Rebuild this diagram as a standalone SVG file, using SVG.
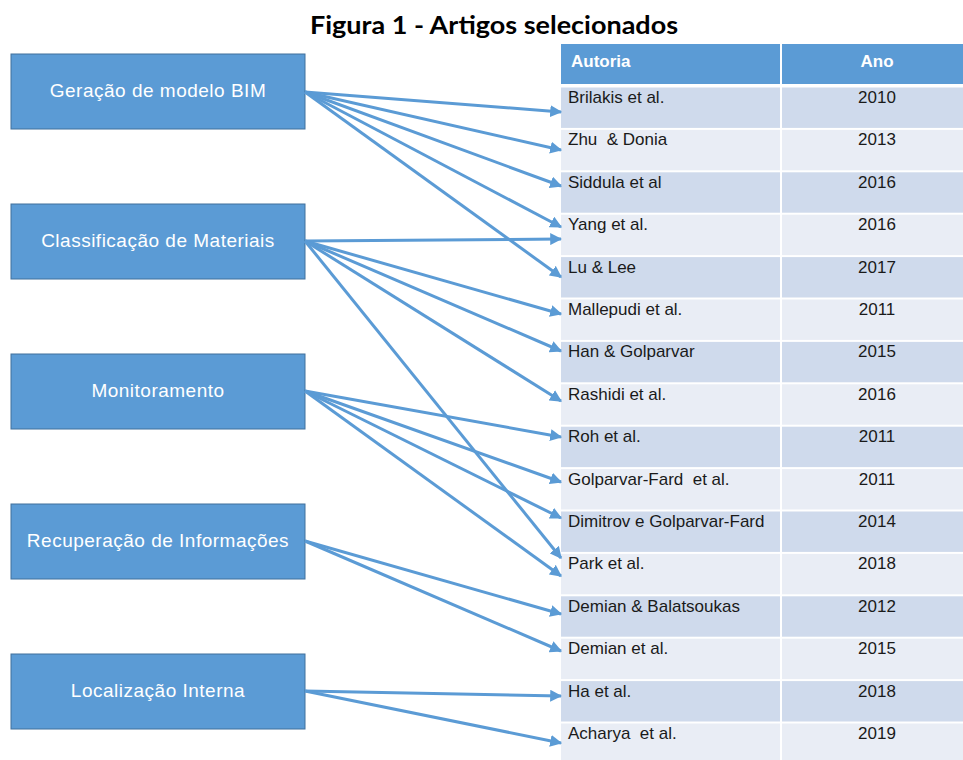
<svg xmlns="http://www.w3.org/2000/svg" width="963" height="760" viewBox="0 0 963 760">
<defs>
<style>
.box{fill:#5B9BD5;stroke:#41719C;stroke-width:1}
.bt{font-family:"Liberation Sans",Arial,sans-serif;font-size:19px;letter-spacing:0.5px;fill:#ffffff;text-anchor:middle}
.hd{font-family:"Liberation Sans",Arial,sans-serif;font-size:17px;font-weight:bold;fill:#ffffff}
.ct{font-family:"Liberation Sans",Arial,sans-serif;font-size:17px;fill:#1a1a1a;white-space:pre}
.yr{text-anchor:middle}
.dk{fill:#CFDAEC}
.lt{fill:#E9EDF5}
.cn line{stroke:#5B9BD5;stroke-width:3;marker-end:url(#ah)}
</style>
<marker id="ah" viewBox="0 0 10 10" refX="9" refY="5" markerWidth="4" markerHeight="4" orient="auto" markerUnits="strokeWidth">
<path d="M0,0 L10,5 L0,10 z" fill="#5B9BD5"/>
</marker>
</defs>
<rect width="963" height="760" fill="#ffffff"/>
<text x="494" y="34" font-family="Lato,'Open Sans','Liberation Sans',sans-serif" font-size="24" font-weight="bold" text-anchor="middle" fill="#000" textLength="368" lengthAdjust="spacingAndGlyphs">Figura 1 - Artigos selecionados</text>

<g id="table">
<rect x="561" y="44" width="219" height="40" fill="#5B9BD5"/>
<rect x="782" y="44" width="181" height="40" fill="#5B9BD5"/>
<text class="hd" x="571" y="67">Autoria</text>
<text class="hd yr" x="877" y="67">Ano</text>
<g id="rows">
<rect class="dk" x="561" y="87.5" width="219" height="40.4"/><rect class="dk" x="782" y="87.5" width="181" height="40.4"/>
<rect class="lt" x="561" y="129.9" width="219" height="40.4"/><rect class="lt" x="782" y="129.9" width="181" height="40.4"/>
<rect class="dk" x="561" y="172.3" width="219" height="40.4"/><rect class="dk" x="782" y="172.3" width="181" height="40.4"/>
<rect class="lt" x="561" y="214.7" width="219" height="40.4"/><rect class="lt" x="782" y="214.7" width="181" height="40.4"/>
<rect class="dk" x="561" y="257.1" width="219" height="40.4"/><rect class="dk" x="782" y="257.1" width="181" height="40.4"/>
<rect class="lt" x="561" y="299.5" width="219" height="40.4"/><rect class="lt" x="782" y="299.5" width="181" height="40.4"/>
<rect class="dk" x="561" y="341.9" width="219" height="40.4"/><rect class="dk" x="782" y="341.9" width="181" height="40.4"/>
<rect class="lt" x="561" y="384.3" width="219" height="40.4"/><rect class="lt" x="782" y="384.3" width="181" height="40.4"/>
<rect class="dk" x="561" y="426.7" width="219" height="40.4"/><rect class="dk" x="782" y="426.7" width="181" height="40.4"/>
<rect class="lt" x="561" y="469.1" width="219" height="40.4"/><rect class="lt" x="782" y="469.1" width="181" height="40.4"/>
<rect class="dk" x="561" y="511.5" width="219" height="40.4"/><rect class="dk" x="782" y="511.5" width="181" height="40.4"/>
<rect class="lt" x="561" y="553.9" width="219" height="40.4"/><rect class="lt" x="782" y="553.9" width="181" height="40.4"/>
<rect class="dk" x="561" y="596.3" width="219" height="40.4"/><rect class="dk" x="782" y="596.3" width="181" height="40.4"/>
<rect class="lt" x="561" y="638.7" width="219" height="40.4"/><rect class="lt" x="782" y="638.7" width="181" height="40.4"/>
<rect class="dk" x="561" y="681.1" width="219" height="40.4"/><rect class="dk" x="782" y="681.1" width="181" height="40.4"/>
<rect class="lt" x="561" y="723.5" width="219" height="40.4"/><rect class="lt" x="782" y="723.5" width="181" height="40.4"/>
</g>
<g id="cells">
<text class="ct" x="568" y="103">Brilakis et al.</text><text class="ct yr" x="877" y="103">2010</text>
<text class="ct" x="568" y="145.4">Zhu  &amp; Donia</text><text class="ct yr" x="877" y="145.4">2013</text>
<text class="ct" x="568" y="187.8">Siddula et al</text><text class="ct yr" x="877" y="187.8">2016</text>
<text class="ct" x="568" y="230.2">Yang et al.</text><text class="ct yr" x="877" y="230.2">2016</text>
<text class="ct" x="568" y="272.6">Lu &amp; Lee</text><text class="ct yr" x="877" y="272.6">2017</text>
<text class="ct" x="568" y="315">Mallepudi et al.</text><text class="ct yr" x="877" y="315">2011</text>
<text class="ct" x="568" y="357.4">Han &amp; Golparvar</text><text class="ct yr" x="877" y="357.4">2015</text>
<text class="ct" x="568" y="399.8">Rashidi et al.</text><text class="ct yr" x="877" y="399.8">2016</text>
<text class="ct" x="568" y="442.2">Roh et al.</text><text class="ct yr" x="877" y="442.2">2011</text>
<text class="ct" x="568" y="484.6">Golparvar-Fard  et al.</text><text class="ct yr" x="877" y="484.6">2011</text>
<text class="ct" x="568" y="527">Dimitrov e Golparvar-Fard</text><text class="ct yr" x="877" y="527">2014</text>
<text class="ct" x="568" y="569.4">Park et al.</text><text class="ct yr" x="877" y="569.4">2018</text>
<text class="ct" x="568" y="611.8">Demian &amp; Balatsoukas</text><text class="ct yr" x="877" y="611.8">2012</text>
<text class="ct" x="568" y="654.2">Demian et al.</text><text class="ct yr" x="877" y="654.2">2015</text>
<text class="ct" x="568" y="696.6">Ha et al.</text><text class="ct yr" x="877" y="696.6">2018</text>
<text class="ct" x="568" y="739">Acharya  et al.</text><text class="ct yr" x="877" y="739">2019</text>
</g>
</g>

<g id="n1"><rect class="box" x="11" y="54" width="294" height="75"/><text class="bt" x="158" y="97">Geração de modelo BIM</text></g>
<g id="n2"><rect class="box" x="11" y="204" width="294" height="75"/><text class="bt" x="158" y="247">Classificação de Materiais</text></g>
<g id="n3"><rect class="box" x="11" y="354" width="294" height="75"/><text class="bt" x="158" y="397">Monitoramento</text></g>
<g id="n4"><rect class="box" x="11" y="504" width="294" height="75"/><text class="bt" x="158" y="547">Recuperação de Informações</text></g>
<g id="n5"><rect class="box" x="11" y="654" width="294" height="75"/><text class="bt" x="158" y="697">Localização Interna</text></g>

<g id="connectors" class="cn">
<line x1="305" y1="92" x2="561" y2="112"/>
<line x1="305" y1="92" x2="561" y2="150"/>
<line x1="305" y1="92" x2="561" y2="186"/>
<line x1="305" y1="92" x2="561" y2="227"/>
<line x1="305" y1="92" x2="561" y2="277"/>
<line x1="305" y1="241" x2="561" y2="239"/>
<line x1="305" y1="241" x2="561" y2="314"/>
<line x1="305" y1="241" x2="561" y2="351"/>
<line x1="305" y1="241" x2="561" y2="401"/>
<line x1="305" y1="241" x2="561" y2="558"/>
<line x1="305" y1="391" x2="561" y2="437"/>
<line x1="305" y1="391" x2="561" y2="482"/>
<line x1="305" y1="391" x2="561" y2="518"/>
<line x1="305" y1="391" x2="561" y2="576"/>
<line x1="305" y1="541" x2="561" y2="614"/>
<line x1="305" y1="541" x2="561" y2="651"/>
<line x1="305" y1="691" x2="561" y2="696"/>
<line x1="305" y1="691" x2="561" y2="743"/>
</g>
</svg>
